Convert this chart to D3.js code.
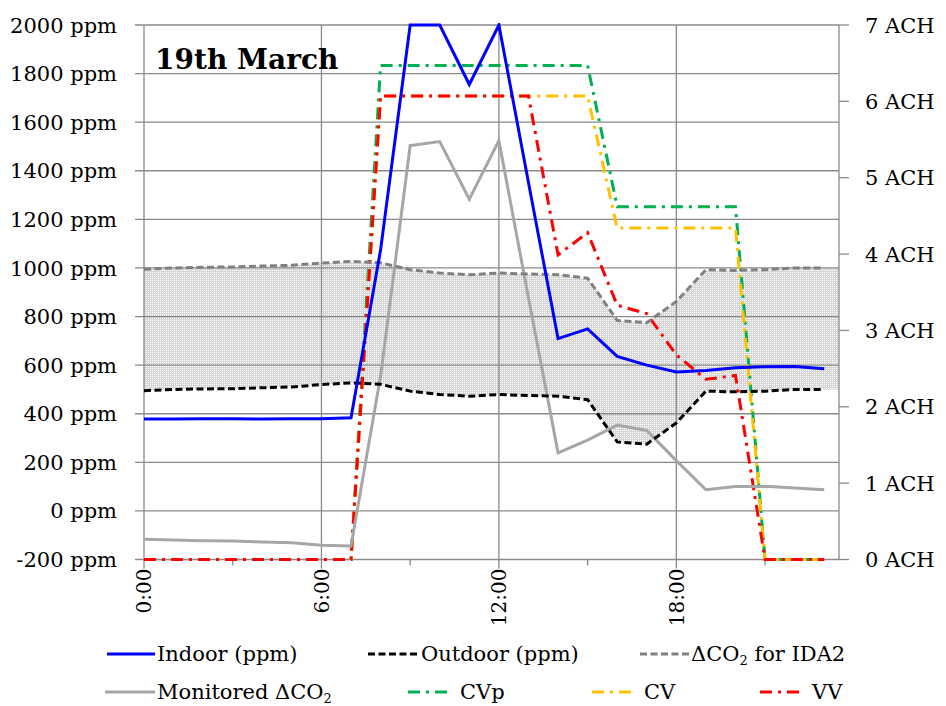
<!DOCTYPE html>
<html>
<head>
<meta charset="utf-8">
<script src="https://cdn.jsdelivr.net/npm/d3@7"></script>
<style>
  body { margin: 0; background: #fff; }
  text { font-family: "DejaVu Serif", serif; fill: #000; }
</style>
</head>
<body>
<svg></svg>
<script>
const width = 946;
const height = 706;

const margin = { top: 25, right: 107, bottom: 146.5, left: 144 };

// hora del dia (0..23)
const hours = [0, 1, 2, 3, 4, 5, 6, 7, 8, 9, 10, 11, 12, 13, 14, 15, 16, 17, 18, 19, 20, 21, 22, 23];

// ppm
const indoor = [378, 378, 379, 379, 378, 379, 379, 383, 1075, 2000, 2000, 1755, 2000, 1352, 709, 749, 636, 600, 572, 578, 589, 593, 594, 585];
const outdoor = [495, 500, 502, 503, 507, 510, 520, 527, 521, 493, 479, 472, 479, 475, 472, 458, 284, 275, 362, 493, 490, 493, 500, 500];
const ida2 = [995, 1000, 1003, 1004, 1008, 1011, 1020, 1027, 1021, 993, 979, 972, 979, 975, 972, 958, 784, 775, 862, 993, 990, 993, 1000, 1000];
const monitored = [-117, -120, -123, -124, -128, -131, -141, -144, 555, 1504, 1520, 1283, 1524, 877, 239, 291, 353, 331, 207, 87, 100, 101, 94, 87];

// ACH
const cvp = [0, 0, 0, 0, 0, 0, 0, 0, 6.47, 6.47, 6.47, 6.47, 6.47, 6.47, 6.47, 6.47, 4.62, 4.62, 4.62, 4.62, 4.62, 0, 0, 0];
const cv = [0, 0, 0, 0, 0, 0, 0, 0, 6.07, 6.07, 6.07, 6.07, 6.07, 6.07, 6.07, 6.07, 4.34, 4.34, 4.34, 4.34, 4.34, 0, 0, 0];
const vv = [0, 0, 0, 0, 0, 0, 0, 0, 6.07, 6.07, 6.07, 6.07, 6.07, 6.07, 3.99, 4.28, 3.33, 3.22, 2.68, 2.36, 2.41, 0, 0, 0];

// ejes
const ppmTicks = [-200, 0, 200, 400, 600, 800, 1000, 1200, 1400, 1600, 1800, 2000];
const achTicks = [0, 1, 2, 3, 4, 5, 6, 7];
const timeTicks = [0, 6, 12, 18];
const timeLabels = ["0:00", "6:00", "12:00", "18:00"];
const minorTimeTicks = [3, 9, 15, 21];
const hourMax = 23.5;

const svg = d3.select("svg").attr("width", width).attr("height", height);

const x = d3.scaleLinear().domain([0, hourMax]).range([margin.left, width - margin.right]);
const y = d3.scaleLinear().domain([-200, 2000]).range([height - margin.bottom, margin.top]);
const y2 = d3.scaleLinear().domain([0, 7]).range([height - margin.bottom, margin.top]);

const x0 = x.range()[0], x1 = x.range()[1];
const yb = y.range()[0], yt = y.range()[1];

const defs = svg.append("defs");
const pat = defs.append("pattern").attr("id", "dots")
  .attr("width", 2).attr("height", 2).attr("patternUnits", "userSpaceOnUse");
pat.append("rect").attr("width", 2).attr("height", 2).attr("fill", "#d6d6d6");
pat.append("rect").attr("width", 1).attr("height", 1).attr("fill", "#ffffff");

defs.append("clipPath").attr("id", "plot")
  .append("rect").attr("x", x0).attr("y", yt - 2).attr("width", x1 - x0).attr("height", yb - yt + 4);

// banda entre exterior y IDA2
const band = hours.map((h, i) => ({ h: h, lo: outdoor[i], hi: ida2[i] }));
band.push({ h: hourMax, lo: outdoor[outdoor.length - 1], hi: ida2[ida2.length - 1] });

svg.append("path")
  .datum(band)
  .attr("fill", "url(#dots)")
  .attr("d", d3.area().x(d => x(d.h)).y0(d => y(d.lo)).y1(d => y(d.hi)));

// rejilla
const gridColor = "#8a8a8a";
svg.append("g")
  .selectAll("line")
  .data(ppmTicks)
  .enter()
  .append("line")
  .attr("x1", x0 - 9).attr("x2", x1)
  .attr("y1", d => y(d)).attr("y2", d => y(d))
  .attr("stroke", gridColor).attr("stroke-width", 1.3);

svg.append("g")
  .selectAll("line")
  .data(timeTicks)
  .enter()
  .append("line")
  .attr("x1", d => x(d)).attr("x2", d => x(d))
  .attr("y1", yt).attr("y2", yb + 9)
  .attr("stroke", gridColor).attr("stroke-width", 1.3);

svg.append("g")
  .selectAll("line")
  .data(minorTimeTicks)
  .enter()
  .append("line")
  .attr("x1", d => x(d)).attr("x2", d => x(d))
  .attr("y1", yb).attr("y2", yb + 6)
  .attr("stroke", gridColor).attr("stroke-width", 1.3);

// eje derecho
svg.append("line")
  .attr("x1", x1).attr("x2", x1).attr("y1", yt).attr("y2", yb)
  .attr("stroke", gridColor).attr("stroke-width", 1.3);

svg.append("g")
  .selectAll("line")
  .data(achTicks)
  .enter()
  .append("line")
  .attr("x1", x1).attr("x2", x1 + 10)
  .attr("y1", d => y2(d)).attr("y2", d => y2(d))
  .attr("stroke", gridColor).attr("stroke-width", 1.3);

// etiquetas
svg.append("g")
  .selectAll("text")
  .data(ppmTicks)
  .enter()
  .append("text")
  .attr("x", x0 - 27)
  .attr("y", d => y(d))
  .attr("dy", "0.36em")
  .style("text-anchor", "end")
  .style("font-size", "21px")
  .text(d => d + " ppm");

svg.append("g")
  .selectAll("text")
  .data(achTicks)
  .enter()
  .append("text")
  .attr("x", x1 + 26)
  .attr("y", d => y2(d))
  .attr("dy", "0.36em")
  .style("font-size", "21px")
  .text(d => d + " ACH");

svg.append("g")
  .selectAll("text")
  .data(timeTicks)
  .enter()
  .append("text")
  .attr("transform", d => `translate(${x(d)},${yb + 9}) rotate(-90)`)
  .attr("dy", "0.36em")
  .style("text-anchor", "end")
  .style("font-size", "20px")
  .text((d, i) => timeLabels[i]);

// series
const plot = svg.append("g").attr("clip-path", "url(#plot)");

const series = [
  { vals: cvp, axis: y2, color: "#00b050", dash: "12,6,3,6", w: 3 },
  { vals: cv, axis: y2, color: "#ffc000", dash: "12,6,3,6", w: 3 },
  { vals: vv, axis: y2, color: "#ff0000", dash: "12,6,3,6", w: 3 },
  { vals: monitored, axis: y, color: "#a6a6a6", dash: null, w: 3 },
  { vals: ida2, axis: y, color: "#808080", dash: "7,3.5", w: 3 },
  { vals: outdoor, axis: y, color: "#000000", dash: "7,3.5", w: 3 },
  { vals: indoor, axis: y, color: "#0000ff", dash: null, w: 3 }
];

series.forEach(function (s) {
  plot.append("path")
    .datum(s.vals)
    .attr("fill", "none")
    .attr("stroke", s.color)
    .attr("stroke-width", s.w)
    .attr("stroke-dasharray", s.dash)
    .attr("d", d3.line().x((d, i) => x(hours[i])).y(d => s.axis(d)));
});

// titulo
svg.append("text")
  .attr("x", 155)
  .attr("y", 69)
  .style("font-size", "28px")
  .style("font-weight", "bold")
  .text("19th March");

// leyenda
const legend = [
  { label: "Indoor (ppm)", color: "#0000ff", dash: null, lx: 107, len: 48, ty: 0 },
  { label: "Outdoor (ppm)", color: "#000000", dash: "7,3.5", lx: 368, len: 51, ty: 0 },
  { label: "ΔCO|2| for IDA2", color: "#808080", dash: "7,3.5", lx: 640, len: 49, ty: 0 },
  { label: "Monitored ΔCO|2|", color: "#a6a6a6", dash: null, lx: 105, len: 50, ty: 1 },
  { label: "CVp", color: "#00b050", dash: "12,6,3,6", lx: 408, len: 41, ty: 1, gap: 11 },
  { label: "CV", color: "#ffc000", dash: "12,6,3,6", lx: 592, len: 41, ty: 1, gap: 11 },
  { label: "VV", color: "#ff0000", dash: "12,6,3,6", lx: 760, len: 41, ty: 1, gap: 11 }
];
const rowY = [654, 692];

legend.forEach(function (d) {
  const ly = rowY[d.ty];
  svg.append("line")
    .attr("x1", d.lx).attr("x2", d.lx + d.len)
    .attr("y1", ly).attr("y2", ly)
    .attr("stroke", d.color).attr("stroke-width", 3)
    .attr("stroke-dasharray", d.dash);

  const t = svg.append("text")
    .attr("x", d.lx + d.len + (d.gap || 2))
    .attr("y", ly + 7)
    .style("font-size", "21px");
  // subindice marcado con |2|
  d.label.split("|").forEach(function (part, k) {
    if (k % 2 === 1) {
      t.append("tspan").attr("dy", 4).style("font-size", "13px").text(part);
    } else {
      t.append("tspan").attr("dy", k > 0 ? -4 : 0).text(part);
    }
  });
});
</script>
</body>
</html>
